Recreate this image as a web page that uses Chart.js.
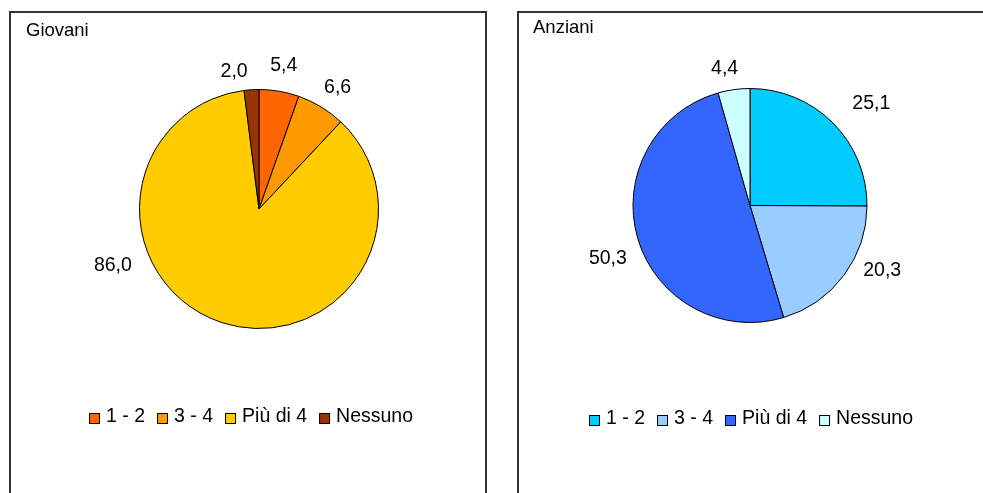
<!DOCTYPE html>
<html><head><meta charset="utf-8">
<script src="https://cdn.jsdelivr.net/npm/chart.js@4/dist/chart.umd.min.js"></script>
<style>
html,body{margin:0;padding:0;background:#fff;width:983px;height:493px;overflow:hidden;}
.box{position:absolute;top:11px;height:600px;border:2px solid #333;box-sizing:border-box;}
#b1{left:9px;width:478px;}
#b2{left:517px;width:600px;}
canvas{position:absolute;top:0;}
#c1{left:0;width:500px;height:493px;}
#c2{left:500px;width:483px;height:493px;}
</style></head><body>
<div class="box" id="b1"></div><div class="box" id="b2"></div>
<canvas id="c1" width="500" height="493"></canvas>
<canvas id="c2" width="483" height="493"></canvas>
<script>
// ---- data ----
const categories = ['1 - 2', '3 - 4', 'Più di 4', 'Nessuno'];
const giovaniValues = [5.4, 6.6, 86.0, 2.0];
const anzianiValues = [25.1, 20.3, 50.3, 4.4];
const giovaniTitle = 'Giovani';
const anzianiTitle = 'Anziani';

// ---- styles ----
const giovaniColors = ['#FF6600', '#FF9900', '#FFCC00', '#993300'];
const anzianiColors = ['#00CCFF', '#99CCFF', '#3366FF', '#CCFFFF'];
const FONT_FAMILY = "'Liberation Sans', Arial, sans-serif";

const decor = {
  id: 'decor',
  afterDraw(chart, args, opts) {
    const ctx = chart.ctx;
    const meta = chart.getDatasetMeta(0);
    const ds = chart.data.datasets[0];
    ctx.save();
    ctx.fillStyle = '#000';
    ctx.textBaseline = 'alphabetic';
    // title
    ctx.font = opts.titleSize + 'px ' + FONT_FAMILY;
    ctx.textAlign = 'left';
    ctx.fillText(opts.title, opts.titleX, opts.titleY);
    // value labels
    ctx.font = opts.fontSize + 'px ' + FONT_FAMILY;
    const capH = opts.fontSize * 0.716;
    meta.data.forEach((arc, i) => {
      const p = arc.getProps(['x', 'y', 'startAngle', 'endAngle', 'outerRadius'], true);
      const a = (p.startAngle + p.endAngle) / 2 + opts.shift[i] * Math.PI / 180;
      const txt = ds.data[i].toFixed(1).replace('.', ',');
      const w = ctx.measureText(txt).width;
      const ca = Math.cos(a), sa = Math.sin(a);
      const proj = Math.abs(ca) * w / 2 + Math.abs(sa) * capH / 2;
      const d = p.outerRadius + opts.gap[i] + proj;
      ctx.textAlign = 'center';
      ctx.fillText(txt, p.x + ca * d, p.y + sa * d + capH / 2);
    });
    // legend
    let x = opts.legendX;
    const y = opts.legendY;
    ctx.textAlign = 'left';
    chart.data.labels.forEach((c, i) => {
      ctx.fillStyle = ds.backgroundColor[i];
      ctx.fillRect(x + 0.5, y - 8.5, 10, 10);
      ctx.strokeStyle = '#000';
      ctx.lineWidth = 1;
      ctx.strokeRect(x + 0.5, y - 8.5, 10, 10);
      ctx.fillStyle = '#000';
      ctx.fillText(c, x + 17, y);
      x += 17 + ctx.measureText(c).width + 12;
    });
    ctx.restore();
  }
};

function makePie(id, values, colors, padding, decorOpts) {
  return new Chart(document.getElementById(id), {
    type: 'pie',
    data: {
      labels: categories,
      datasets: [{ data: values, backgroundColor: colors, borderColor: '#000', borderWidth: 1 }]
    },
    options: {
      responsive: false,
      devicePixelRatio: 1,
      animation: false,
      events: [],
      layout: { padding: padding },
      plugins: {
        legend: { display: false },
        title: { display: false },
        tooltip: { enabled: false },
        decor: decorOpts
      }
    },
    plugins: [decor]
  });
}

makePie('c1', giovaniValues, giovaniColors,
  { left: 139, right: 121, top: 89, bottom: 164 },
  { title: giovaniTitle, titleSize: 18.5, titleX: 26, titleY: 36, fontSize: 19.5,
    shift: [0, 1.2, 51.5, -6.5], gap: [18, 13.6, 16.3, 12.9],
    legendX: 89, legendY: 422 });

makePie('c2', anzianiValues, anzianiColors,
  { left: 132.5, right: 115.5, top: 88, bottom: 170 },
  { title: anzianiTitle, titleSize: 18.5, titleX: 33, titleY: 33, fontSize: 19.5,
    shift: [4.4, -11, -3.5, -2.5], gap: [23.5, 9.7, 13.8, 14],
    legendX: 89, legendY: 424 });
</script>
</body></html>
